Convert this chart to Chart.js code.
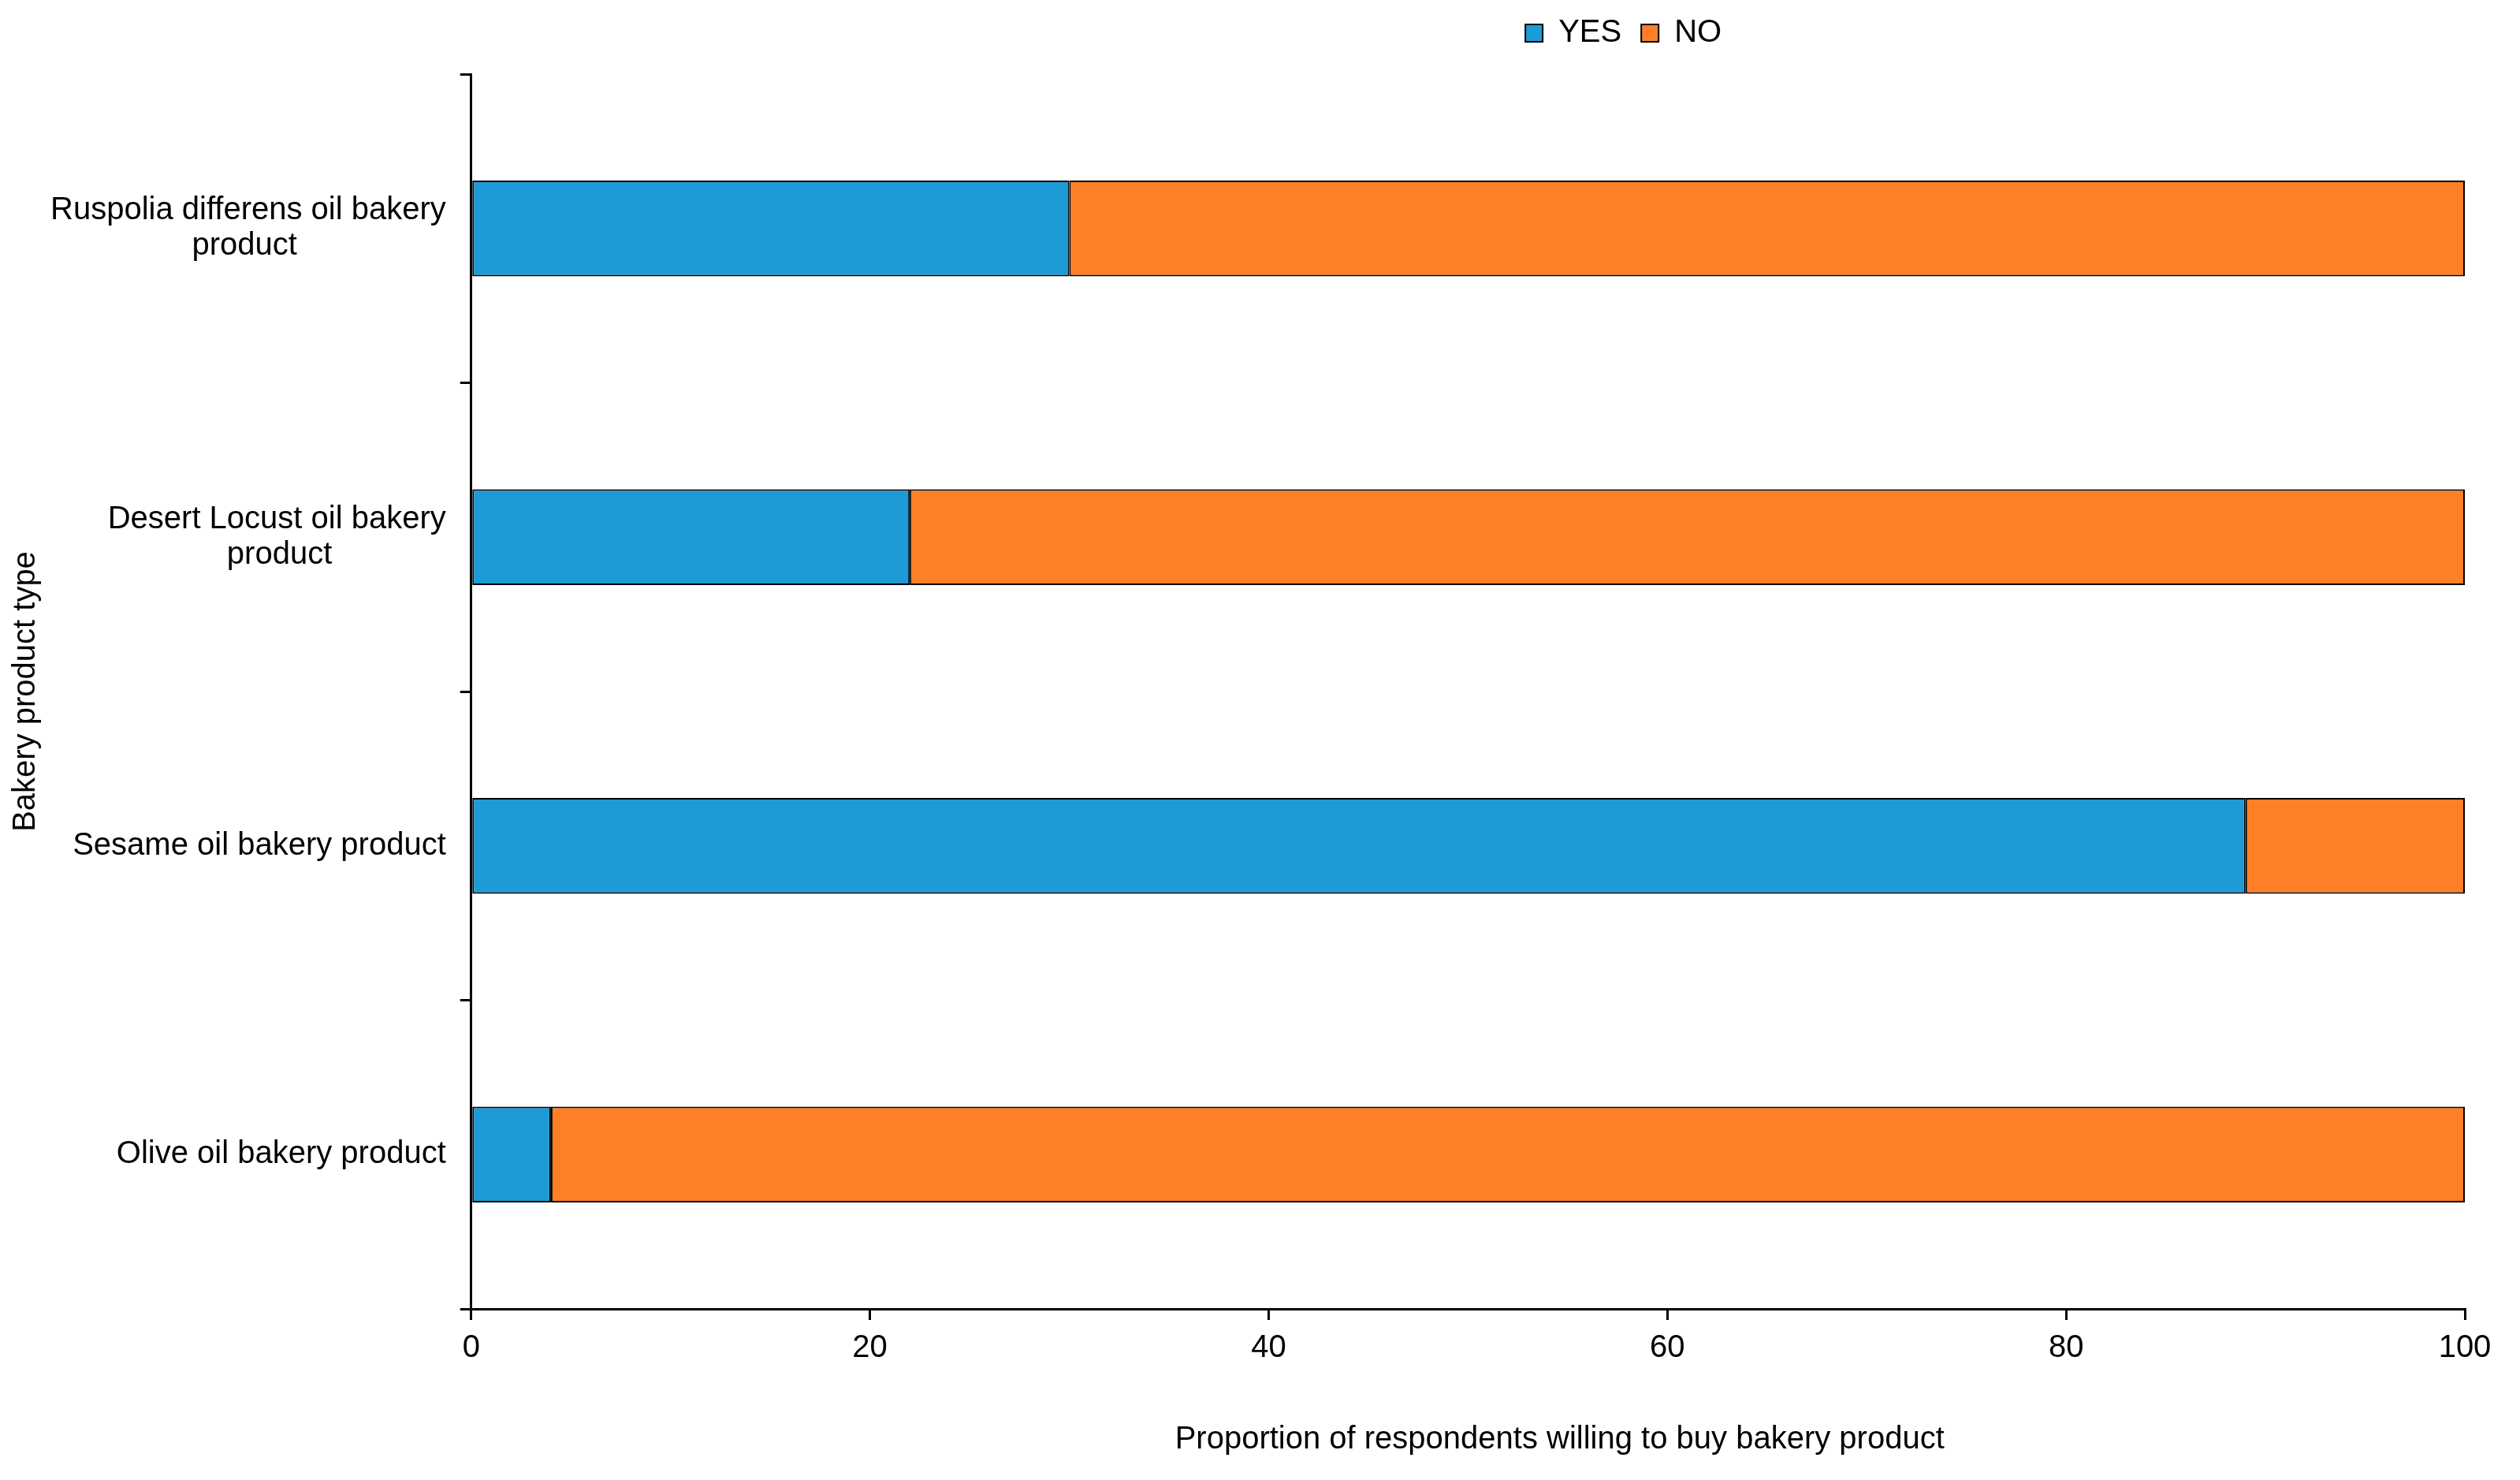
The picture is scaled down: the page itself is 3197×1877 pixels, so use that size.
<!DOCTYPE html>
<html>
<head>
<meta charset="utf-8">
<script src="https://cdn.jsdelivr.net/npm/chart.js@4.4.1/dist/chart.umd.min.js"></script>
<style>
  html, body { margin: 0; padding: 0; background: #fff; }
  #wrap { width: 3197px; height: 1877px; }
</style>
</head>
<body>
<div id="wrap"><canvas id="chartBakery"></canvas></div>
<script>
// categories, top to bottom
var categories = [
    ['Ruspolia differens oil bakery', 'product'],
    ['Desert Locust oil bakery', 'product'],
    'Sesame oil bakery product',
    'Olive oil bakery product'
];
var yesValues = [30, 22, 89, 4];
var noValues = [70, 78, 11, 96];
var xTickMin = 0;
var xTickMax = 100;
var xTickStep = 20;

var fontFamily = "'Liberation Sans', Arial, sans-serif";
Chart.defaults.font.family = fontFamily;
Chart.defaults.color = '#000';

// in the original the second line of a label is centred under the first one
var misura = document.createElement('canvas').getContext('2d');
misura.font = '40px ' + fontFamily;
function centraRighe(label) {
    if (!Array.isArray(label)) return label;
    var larg = Math.max.apply(null, label.map(function (r) { return misura.measureText(r).width; }));
    var spazio = misura.measureText(' ').width;
    return label.map(function (r) {
        var n = Math.round((larg - misura.measureText(r).width) / 2 / spazio);
        return r + ' '.repeat(n);
    });
}

// legend and bottom title sit off-centre in the original, move them after layout
var spostaBlocchi = {
    id: 'spostaBlocchi',
    afterLayout: function (chart) {
        var area = chart.chartArea;
        var w = area.right - area.left;
        var lg = chart.legend;
        var dx = area.left + 0.578 * w - (lg.left + lg.right) / 2;
        lg.left += dx; lg.right += dx;
        lg.top -= 22; lg.bottom -= 22;
        var tb = chart.titleBlock;
        var dt = area.left + 0.546 * w - (tb.left + tb.right) / 2;
        tb.left += dt; tb.right += dt;
    }
};

var ctx = document.getElementById('chartBakery').getContext('2d');
new Chart(ctx, {
    type: 'bar',
    data: {
        labels: categories,
        datasets: [
            {
                label: 'YES',
                data: yesValues,
                backgroundColor: '#1E9BD7',
                borderColor: '#000',
                borderWidth: 2,
                borderSkipped: false
            },
            {
                label: 'NO',
                data: noValues,
                backgroundColor: '#FF7F27',
                borderColor: '#000',
                borderWidth: 2,
                borderSkipped: false
            }
        ]
    },
    options: {
        indexAxis: 'y',
        responsive: true,
        maintainAspectRatio: false,
        devicePixelRatio: 1,
        animation: false,
        categoryPercentage: 1,
        barPercentage: 0.31,
        layout: { padding: { top: 19, right: 70, bottom: 27, left: 0 } },
        plugins: {
            legend: {
                position: 'top',
                labels: {
                    boxWidth: 22,
                    boxHeight: 22,
                    padding: 25,
                    font: { size: 40 }
                }
            },
            title: {
                display: true,
                position: 'bottom',
                text: 'Proportion of respondents willing to buy bakery product',
                font: { size: 40, weight: 'normal', lineHeight: 1.2 },
                padding: { top: 56, bottom: 0 }
            },
            tooltip: { enabled: false }
        },
        scales: {
            x: {
                stacked: true,
                min: xTickMin,
                max: xTickMax,
                ticks: { stepSize: xTickStep, padding: 12, font: { size: 40 } },
                grid: { drawOnChartArea: false, tickLength: 14, color: '#000', lineWidth: 3 },
                border: { color: '#000', width: 3 }
            },
            y: {
                stacked: true,
                ticks: {
                    padding: 18,
                    font: { size: 40, lineHeight: 1.12 },
                    callback: function (value) { return centraRighe(this.getLabelForValue(value)); }
                },
                grid: { drawOnChartArea: false, offset: true, tickLength: 14, color: '#000', lineWidth: 3 },
                border: { color: '#000', width: 3 },
                title: {
                    display: true,
                    text: 'Bakery product type',
                    font: { size: 40, lineHeight: 1.2 },
                    padding: { top: 9, bottom: -11 }
                }
            }
        }
    },
    plugins: [spostaBlocchi]
});
</script>
</body>
</html>
